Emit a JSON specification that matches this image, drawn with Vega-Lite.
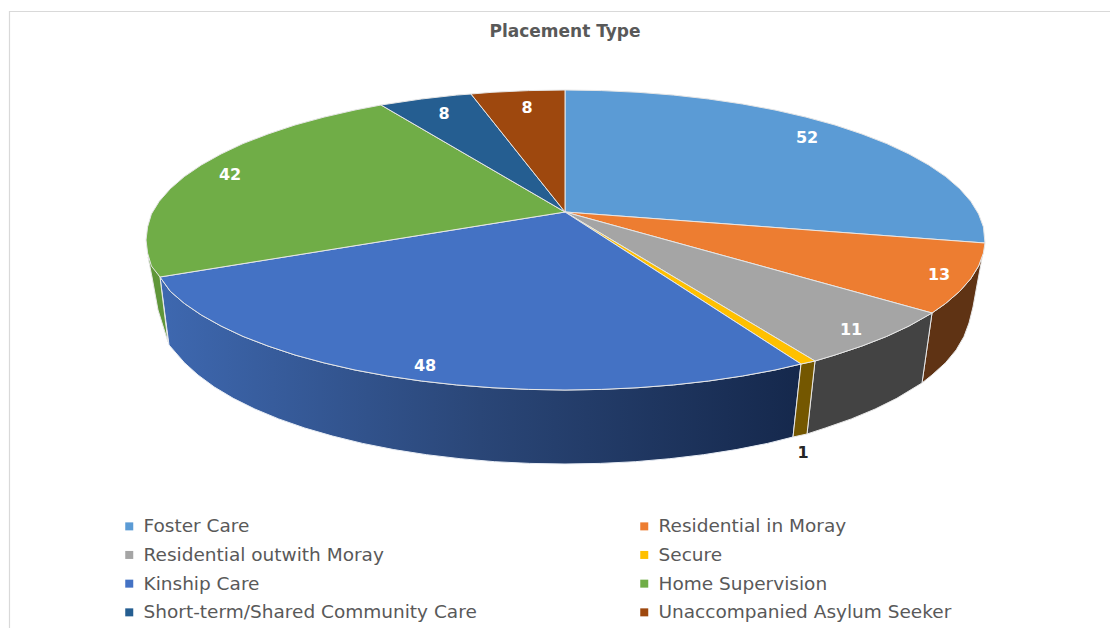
{
"$schema":"https://vega.github.io/schema/vega-lite/v6.json",
"width":1110,"height":628,"padding":0,"autosize":{"type":"none"},
"background":"white",
"config":{"view":{"stroke":null}},
"title":{"text":"Placement Type","anchor":"middle","dx":10,"font":"DejaVu Sans","fontSize":17,"fontWeight":"bold","color":"#595959","offset":-41},
"datasets":{
"top":[
{"slice":"Foster Care","i":0,"x":565,"y":212},{"slice":"Foster Care","i":1,"x":565,"y":90},{"slice":"Foster Care","i":2,"x":601.6,"y":90.6},{"slice":"Foster Care","i":3,"x":638,"y":92.3},{"slice":"Foster Care","i":4,"x":673.7,"y":95.1},{"slice":"Foster Care","i":5,"x":708.6,"y":99},{"slice":"Foster Care","i":6,"x":742.5,"y":104},{"slice":"Foster Care","i":7,"x":775,"y":110},{"slice":"Foster Care","i":8,"x":805.9,"y":117.1},{"slice":"Foster Care","i":9,"x":835,"y":125},{"slice":"Foster Care","i":10,"x":862,"y":134},{"slice":"Foster Care","i":11,"x":886.7,"y":143.6},{"slice":"Foster Care","i":12,"x":909,"y":154},{"slice":"Foster Care","i":13,"x":928.7,"y":165},{"slice":"Foster Care","i":14,"x":945.7,"y":176.6},{"slice":"Foster Care","i":15,"x":959.7,"y":188.7},{"slice":"Foster Care","i":16,"x":970.7,"y":201.2},{"slice":"Foster Care","i":17,"x":978.6,"y":214},{"slice":"Foster Care","i":18,"x":983.4,"y":226.9},{"slice":"Foster Care","i":19,"x":985,"y":243},{"slice":"Foster Care","i":20,"x":565,"y":212},
{"slice":"Residential in Moray","i":0,"x":565,"y":212},{"slice":"Residential in Moray","i":1,"x":985,"y":243},{"slice":"Residential in Moray","i":2,"x":983.4,"y":253.1},{"slice":"Residential in Moray","i":3,"x":978.6,"y":266},{"slice":"Residential in Moray","i":4,"x":970.7,"y":278.8},{"slice":"Residential in Moray","i":5,"x":959.7,"y":291.3},{"slice":"Residential in Moray","i":6,"x":945.7,"y":303.4},{"slice":"Residential in Moray","i":7,"x":932,"y":313},{"slice":"Residential in Moray","i":8,"x":565,"y":212},
{"slice":"Residential outwith Moray","i":0,"x":565,"y":212},{"slice":"Residential outwith Moray","i":1,"x":932,"y":313},{"slice":"Residential outwith Moray","i":2,"x":909,"y":326},{"slice":"Residential outwith Moray","i":3,"x":886.7,"y":336.4},{"slice":"Residential outwith Moray","i":4,"x":862,"y":346},{"slice":"Residential outwith Moray","i":5,"x":835,"y":355},{"slice":"Residential outwith Moray","i":6,"x":815,"y":361},{"slice":"Residential outwith Moray","i":7,"x":565,"y":212},
{"slice":"Secure","i":0,"x":565,"y":212},{"slice":"Secure","i":1,"x":815,"y":361},{"slice":"Secure","i":2,"x":801,"y":364},{"slice":"Secure","i":3,"x":565,"y":212},
{"slice":"Kinship Care","i":0,"x":565,"y":212},{"slice":"Kinship Care","i":1,"x":801,"y":364},{"slice":"Kinship Care","i":2,"x":775,"y":370},{"slice":"Kinship Care","i":3,"x":742.5,"y":376},{"slice":"Kinship Care","i":4,"x":708.6,"y":381},{"slice":"Kinship Care","i":5,"x":673.7,"y":384.9},{"slice":"Kinship Care","i":6,"x":638,"y":387.7},{"slice":"Kinship Care","i":7,"x":601.6,"y":389.4},{"slice":"Kinship Care","i":8,"x":565,"y":390},{"slice":"Kinship Care","i":9,"x":528.4,"y":389.4},{"slice":"Kinship Care","i":10,"x":492,"y":387.7},{"slice":"Kinship Care","i":11,"x":456.3,"y":384.9},{"slice":"Kinship Care","i":12,"x":421.4,"y":381},{"slice":"Kinship Care","i":13,"x":387.5,"y":376},{"slice":"Kinship Care","i":14,"x":355,"y":370},{"slice":"Kinship Care","i":15,"x":324.1,"y":362.9},{"slice":"Kinship Care","i":16,"x":295,"y":355},{"slice":"Kinship Care","i":17,"x":268,"y":346},{"slice":"Kinship Care","i":18,"x":243,"y":336.4},{"slice":"Kinship Care","i":19,"x":221,"y":326},{"slice":"Kinship Care","i":20,"x":201.3,"y":315},{"slice":"Kinship Care","i":21,"x":184.3,"y":303.4},{"slice":"Kinship Care","i":22,"x":170.3,"y":291.3},{"slice":"Kinship Care","i":23,"x":160,"y":277},{"slice":"Kinship Care","i":24,"x":565,"y":212},
{"slice":"Home Supervision","i":0,"x":565,"y":212},{"slice":"Home Supervision","i":1,"x":160,"y":277},{"slice":"Home Supervision","i":2,"x":151.4,"y":266},{"slice":"Home Supervision","i":3,"x":147.6,"y":253.1},{"slice":"Home Supervision","i":4,"x":146,"y":240},{"slice":"Home Supervision","i":5,"x":147.6,"y":226.9},{"slice":"Home Supervision","i":6,"x":151.4,"y":214},{"slice":"Home Supervision","i":7,"x":159.3,"y":201.2},{"slice":"Home Supervision","i":8,"x":170.3,"y":188.7},{"slice":"Home Supervision","i":9,"x":184.3,"y":176.6},{"slice":"Home Supervision","i":10,"x":201.3,"y":165},{"slice":"Home Supervision","i":11,"x":221,"y":154},{"slice":"Home Supervision","i":12,"x":243,"y":143.6},{"slice":"Home Supervision","i":13,"x":268,"y":134},{"slice":"Home Supervision","i":14,"x":295,"y":125},{"slice":"Home Supervision","i":15,"x":324.1,"y":117.1},{"slice":"Home Supervision","i":16,"x":355,"y":110},{"slice":"Home Supervision","i":17,"x":381,"y":105},{"slice":"Home Supervision","i":18,"x":565,"y":212},
{"slice":"Short-term/Shared Community Care","i":0,"x":565,"y":212},{"slice":"Short-term/Shared Community Care","i":1,"x":381,"y":105},{"slice":"Short-term/Shared Community Care","i":2,"x":421.4,"y":99},{"slice":"Short-term/Shared Community Care","i":3,"x":456.3,"y":95.1},{"slice":"Short-term/Shared Community Care","i":4,"x":471,"y":94},{"slice":"Short-term/Shared Community Care","i":5,"x":565,"y":212},
{"slice":"Unaccompanied Asylum Seeker","i":0,"x":565,"y":212},{"slice":"Unaccompanied Asylum Seeker","i":1,"x":471,"y":94},{"slice":"Unaccompanied Asylum Seeker","i":2,"x":492,"y":92.3},{"slice":"Unaccompanied Asylum Seeker","i":3,"x":528.4,"y":90.6},{"slice":"Unaccompanied Asylum Seeker","i":4,"x":565,"y":90},{"slice":"Unaccompanied Asylum Seeker","i":5,"x":565,"y":212}
],
"walls":[
{"wall":"Residential in Moray","i":0,"x":983,"y":253},{"wall":"Residential in Moray","i":1,"x":978.6,"y":266},{"wall":"Residential in Moray","i":2,"x":970.7,"y":278.8},{"wall":"Residential in Moray","i":3,"x":959.7,"y":291.3},{"wall":"Residential in Moray","i":4,"x":945.7,"y":303.4},{"wall":"Residential in Moray","i":5,"x":932,"y":313},{"wall":"Residential in Moray","i":6,"x":922,"y":383},{"wall":"Residential in Moray","i":7,"x":932,"y":375},{"wall":"Residential in Moray","i":8,"x":945.6,"y":362.7},{"wall":"Residential in Moray","i":9,"x":956.2,"y":349.9},{"wall":"Residential in Moray","i":10,"x":963.9,"y":336.7},{"wall":"Residential in Moray","i":11,"x":969,"y":323},{"wall":"Residential in Moray","i":12,"x":973,"y":307},{"wall":"Residential in Moray","i":13,"x":977,"y":285},{"wall":"Residential in Moray","i":14,"x":983,"y":253},
{"wall":"Residential outwith Moray","i":0,"x":932,"y":313},{"wall":"Residential outwith Moray","i":1,"x":909,"y":326},{"wall":"Residential outwith Moray","i":2,"x":886.7,"y":336.4},{"wall":"Residential outwith Moray","i":3,"x":862,"y":346},{"wall":"Residential outwith Moray","i":4,"x":835,"y":355},{"wall":"Residential outwith Moray","i":5,"x":815,"y":361},{"wall":"Residential outwith Moray","i":6,"x":807,"y":434},{"wall":"Residential outwith Moray","i":7,"x":825.3,"y":428},{"wall":"Residential outwith Moray","i":8,"x":851.4,"y":418.9},{"wall":"Residential outwith Moray","i":9,"x":875.2,"y":409},{"wall":"Residential outwith Moray","i":10,"x":896.8,"y":398.3},{"wall":"Residential outwith Moray","i":11,"x":922,"y":383},{"wall":"Residential outwith Moray","i":12,"x":932,"y":313},
{"wall":"Secure","i":0,"x":815,"y":361},{"wall":"Secure","i":1,"x":801,"y":364},{"wall":"Secure","i":2,"x":793,"y":437},{"wall":"Secure","i":3,"x":807,"y":434},{"wall":"Secure","i":4,"x":815,"y":361},
{"wall":"Home Supervision","i":0,"x":148,"y":257},{"wall":"Home Supervision","i":1,"x":160,"y":277},{"wall":"Home Supervision","i":2,"x":168,"y":342},{"wall":"Home Supervision","i":3,"x":158,"y":310},{"wall":"Home Supervision","i":4,"x":152,"y":277},{"wall":"Home Supervision","i":5,"x":148,"y":257}
],
"kinshipWall":[
{"i":0,"x":801,"y":364},{"i":1,"x":775,"y":370},{"i":2,"x":742.5,"y":376},{"i":3,"x":708.6,"y":381},{"i":4,"x":673.7,"y":384.9},{"i":5,"x":638,"y":387.7},{"i":6,"x":601.6,"y":389.4},{"i":7,"x":565,"y":390},{"i":8,"x":528.4,"y":389.4},{"i":9,"x":492,"y":387.7},{"i":10,"x":456.3,"y":384.9},{"i":11,"x":421.4,"y":381},{"i":12,"x":387.5,"y":376},{"i":13,"x":355,"y":370},{"i":14,"x":324.1,"y":362.9},{"i":15,"x":295,"y":355},{"i":16,"x":268,"y":346},{"i":17,"x":243,"y":336.4},{"i":18,"x":221,"y":326},{"i":19,"x":201.3,"y":315},{"i":20,"x":184.3,"y":303.4},{"i":21,"x":170.3,"y":291.3},{"i":22,"x":160,"y":277},{"i":23,"x":169,"y":345},{"i":24,"x":184.4,"y":362.7},{"i":25,"x":198,"y":375},{"i":26,"x":214.3,"y":387},{"i":27,"x":233.2,"y":398.3},{"i":28,"x":254.8,"y":409},{"i":29,"x":278.6,"y":418.9},{"i":30,"x":304.7,"y":428},{"i":31,"x":332.7,"y":436.1},{"i":32,"x":362.5,"y":443.4},{"i":33,"x":393.8,"y":449.6},{"i":34,"x":426.5,"y":454.7},{"i":35,"x":460.2,"y":458.7},{"i":36,"x":494.7,"y":461.7},{"i":37,"x":529.7,"y":463.4},{"i":38,"x":565,"y":464},{"i":39,"x":600.3,"y":463.4},{"i":40,"x":635.3,"y":461.7},{"i":41,"x":669.8,"y":458.7},{"i":42,"x":703.5,"y":454.7},{"i":43,"x":736.2,"y":449.6},{"i":44,"x":767.5,"y":443.4},{"i":45,"x":793,"y":437},{"i":46,"x":801,"y":364}
],
"labels":[
{"slice":"Foster Care","value":52,"x":807,"y":138},
{"slice":"Residential in Moray","value":13,"x":939,"y":275},
{"slice":"Residential outwith Moray","value":11,"x":851,"y":330},
{"slice":"Kinship Care","value":48,"x":425,"y":366},
{"slice":"Home Supervision","value":42,"x":230,"y":175},
{"slice":"Short-term/Shared Community Care","value":8,"x":444,"y":114},
{"slice":"Unaccompanied Asylum Seeker","value":8,"x":527,"y":108}
],
"outsideLabels":[{"slice":"Secure","value":1,"x":803,"y":453}],
"frameH":[{"x":9,"x2":1110,"y":11.5}],
"frameV":[{"x":9.5,"y":11,"y2":628}]
},
"layer":[
{"data":{"name":"frameH"},"mark":{"type":"rule","color":"#d9d9d9","strokeWidth":1.2},
 "encoding":{"x":{"field":"x","type":"quantitative","scale":{"domain":[0,1110],"nice":false,"zero":false},"axis":null},"x2":{"field":"x2"},"y":{"field":"y","type":"quantitative","scale":{"domain":[0,628],"reverse":true,"nice":false,"zero":false},"axis":null}}},
{"data":{"name":"frameV"},"mark":{"type":"rule","color":"#d9d9d9","strokeWidth":1.2},
 "encoding":{"x":{"field":"x","type":"quantitative"},"y":{"field":"y","type":"quantitative"},"y2":{"field":"y2"}}},
{"data":{"name":"kinshipWall"},"mark":{"type":"line","interpolate":"linear","stroke":"#e8edf5","strokeWidth":1,"fill":{"gradient":"linear","x1":0,"y1":0,"x2":1,"y2":0,"stops":[{"offset":0,"color":"#3e68b0"},{"offset":0.5,"color":"#2a4677"},{"offset":1,"color":"#15284c"}]}},
 "encoding":{"x":{"field":"x","type":"quantitative"},"y":{"field":"y","type":"quantitative"},"order":{"field":"i","type":"quantitative"}}},
{"data":{"name":"walls"},"mark":{"type":"line","stroke":"#e8e8e8","strokeWidth":1},
 "encoding":{"x":{"field":"x","type":"quantitative"},"y":{"field":"y","type":"quantitative"},"order":{"field":"i","type":"quantitative"},
 "fill":{"field":"wall","type":"nominal","legend":null,"scale":{"domain":["Residential in Moray","Residential outwith Moray","Secure","Home Supervision"],"range":["#5f3314","#434343","#745700","#5f9639"]}}}},
{"data":{"name":"top"},"mark":{"type":"line","stroke":"#e6e6e6","strokeWidth":1},
 "encoding":{"x":{"field":"x","type":"quantitative"},"y":{"field":"y","type":"quantitative"},"order":{"field":"i","type":"quantitative"},
 "fill":{"field":"slice","type":"nominal","sort":null,"scale":{"domain":["Foster Care","Residential in Moray","Residential outwith Moray","Secure","Kinship Care","Home Supervision","Short-term/Shared Community Care","Unaccompanied Asylum Seeker"],"range":["#5B9BD5","#ED7D31","#A5A5A5","#FFC000","#4472C4","#70AD47","#255E91","#9E480E"]},
 "legend":{"title":null,"orient":"none","legendX":120,"legendY":517,"direction":"horizontal","columns":2,"columnPadding":158,"rowPadding":9.7,"symbolType":"square","symbolSize":64,"symbolStrokeWidth":0,"labelFont":"DejaVu Sans","labelFontSize":18.5,"labelColor":"#595959","labelLimit":400,"labelOffset":5,"values":["Foster Care","Residential in Moray","Residential outwith Moray","Secure","Kinship Care","Home Supervision","Short-term/Shared Community Care","Unaccompanied Asylum Seeker"]}}}},
{"data":{"name":"labels"},"mark":{"type":"text","font":"DejaVu Sans","fontSize":16,"fontWeight":"bold","color":"white"},
 "encoding":{"x":{"field":"x","type":"quantitative"},"y":{"field":"y","type":"quantitative"},"text":{"field":"value","type":"quantitative"}}},
{"data":{"name":"outsideLabels"},"mark":{"type":"text","font":"DejaVu Sans","fontSize":16,"fontWeight":"bold","color":"#262626"},
 "encoding":{"x":{"field":"x","type":"quantitative"},"y":{"field":"y","type":"quantitative"},"text":{"field":"value","type":"quantitative"}}}
],
"resolve":{"scale":{"fill":"independent"}}
}
